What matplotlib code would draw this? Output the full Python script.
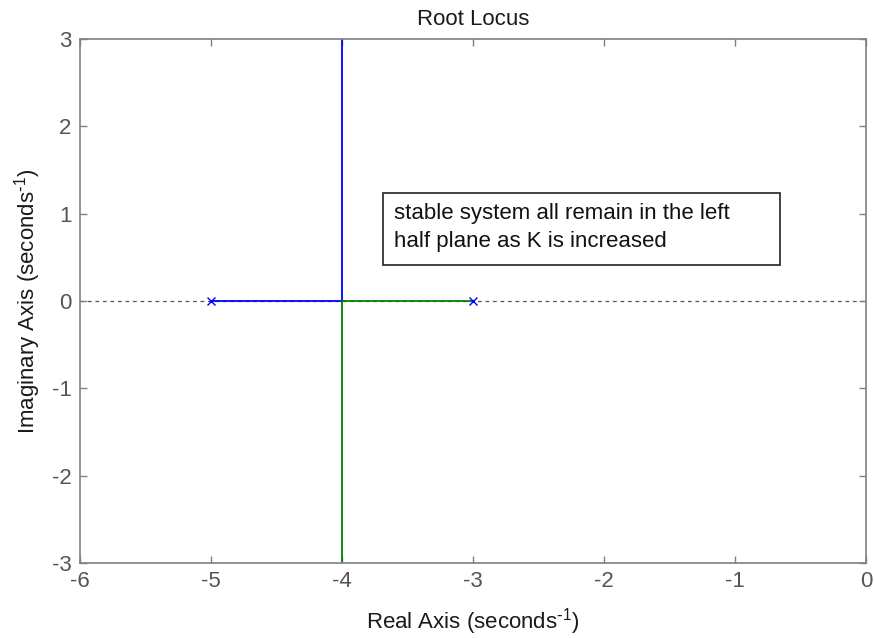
import matplotlib
matplotlib.use("Agg")
import matplotlib.pyplot as plt
from matplotlib.patches import Rectangle

plt.rcParams['font.family'] = ['Liberation Sans', 'DejaVu Sans']
plt.rcParams['mathtext.default'] = 'regular'

# Open-loop poles of the system
poles_re = [-5, -3]
poles_im = [0, 0]

# Root locus branches (real part, imaginary part) as K increases
branch1_re = [-5, -4, -4]
branch1_im = [0, 0, 3]
branch2_re = [-3, -4, -4]
branch2_im = [0, 0, -3]

x_ticks = [-6, -5, -4, -3, -2, -1, 0]
y_ticks = [-3, -2, -1, 0, 1, 2, 3]

note = "stable system all remain in the left\nhalf plane as K is increased"

fig = plt.figure(figsize=(8.74, 6.38), dpi=100)
ax = fig.add_axes([80 / 874, 75 / 638, 786 / 874, 524 / 638])

# Real axis reference line
ax.axhline(0, color='#555555', linestyle=(0, (3, 3)), linewidth=0.9, zorder=1)

ax.plot(branch1_re, branch1_im, color='#0000ff', linewidth=1.3, zorder=2)
ax.plot(branch2_re, branch2_im, color='#008000', linewidth=1.3, zorder=2)
ax.plot(poles_re, poles_im, linestyle='none', marker='x', color='#0000ff',
        markersize=6, markeredgewidth=1.0, zorder=3)

ax.set_xlim(-6, 0)
ax.set_ylim(-3, 3)
ax.set_xticks(x_ticks)
ax.set_yticks(y_ticks)
ax.set_xticklabels([str(v) for v in x_ticks])
ax.set_yticklabels([str(v) for v in y_ticks])

spine_color = '#808080'
for s in ax.spines.values():
    s.set_color(spine_color)
    s.set_linewidth(1.2)
ax.tick_params(direction='in', length=5, width=1.0, color=spine_color,
               top=True, right=True, labelsize=16, labelcolor='#555555', pad=6)

unit = r"(seconds$^{\text{-}1}$)"
ax.set_title("Root Locus", fontsize=16, color='#1a1a1a', pad=10)
ax.set_xlabel("Real Axis " + unit, fontsize=16, color='#1a1a1a', labelpad=10)
ax.set_ylabel("Imaginary Axis " + unit, fontsize=16, color='#1a1a1a', labelpad=6)

# Annotation text box
ax.add_patch(Rectangle((-3.687, 0.41), 3.031, 0.827, facecolor='white',
                       edgecolor='#222222', linewidth=1.2, zorder=4))
ax.text(-3.60, 1.12, note, fontsize=16, color='#111111', va='top', ha='left',
        linespacing=1.4, zorder=5)

fig.savefig("out.png", dpi=100)
